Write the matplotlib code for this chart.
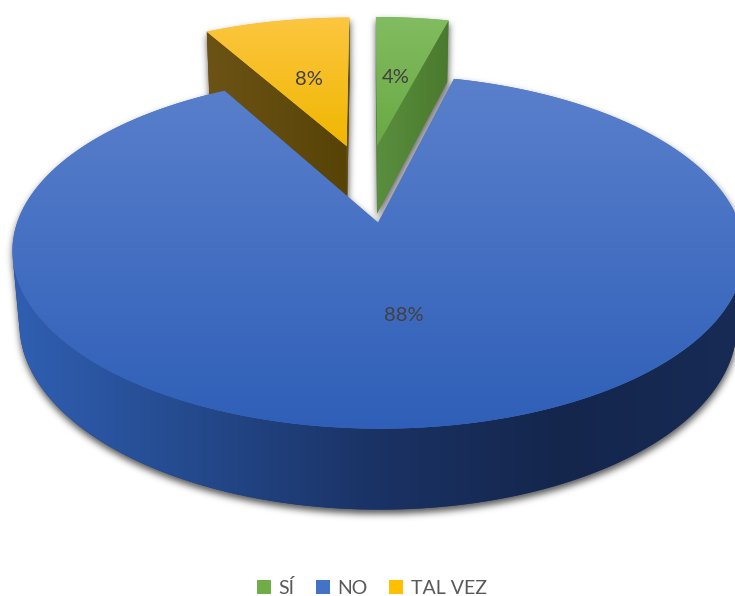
import numpy as np
import matplotlib
matplotlib.use("Agg")
import matplotlib.pyplot as plt
from matplotlib.patches import Polygon, Patch
from matplotlib.colors import to_rgb

categories = ["SÍ", "NO", "TAL VEZ"]
percent = [4, 88, 8]
legend_colors = ["#70AD47", "#4472C4", "#FFC000"]

# shading ramps per slice
top_shades = [["#82BC61", "#6AA944"], ["#5A80CC", "#2F5FB8"], ["#FCC640", "#F0B700"]]
face_shades = [["#5A8E3F", "#4A7A2D"], ["#2E5BA6", "#1A3263"], ["#6C5315", "#574306"]]
wall_shades = [["#5C9141", "#3D6624"],
               ["#305FB2", "#24498C", "#1A3264", "#14264C", "#172B55"],
               ["#B38600", "#6B5000"]]

W, H = 735, 596
ELEV = np.radians(27.3)
DIST = 5.64
SCALE = 1958.0
CX, CY = 367.0, 182.5
THICK = 0.231
EXPLODE = 0.245
LABEL_R = 0.5
SIN_E, COS_E = np.sin(ELEV), np.cos(ELEV)
CAMERA = np.array([0.0, -DIST * COS_E, DIST * SIN_E])

plt.rcParams["font.family"] = ["Lato", "DejaVu Sans"]

fig = plt.figure(figsize=(W / 100, H / 100), dpi=100)
ax = fig.add_axes([0, 0, 1, 1])
silhouettes = []
layer = [1.0]


def project(x, y, z):
    x, y, z = (np.atleast_1d(np.asarray(v, float)) for v in (x, y, z))
    x, y, z = np.broadcast_arrays(x, y, z)
    depth = y * COS_E - z * SIN_E + DIST
    return np.column_stack([CX + SCALE * x / depth,
                            CY - SCALE * (y * SIN_E + z * COS_E) / depth])


def faces_camera(point, normal):
    return np.dot(CAMERA - np.asarray(point), np.asarray(normal)) > 0


def shade(verts, colors, axis="y", span=None):
    verts = np.asarray(verts)
    cols = np.array([to_rgb(c) for c in colors])
    x0, y0 = verts.min(axis=0)
    x1, y1 = verts.max(axis=0)
    if span is None:
        span = (x0, x1) if axis == "x" else (y0, y1)
    coords = np.linspace(x0, x1, 256) if axis == "x" else np.linspace(y0, y1, 256)
    f = np.clip((coords - span[0]) / max(span[1] - span[0], 1e-6), 0, 1)
    pos = np.linspace(0, 1, len(cols))
    rgb = np.column_stack([np.interp(f, pos, cols[:, k]) for k in range(3)])
    img = rgb[None, :, :] if axis == "x" else rgb[:, None, :]
    z = layer[0]
    layer[0] += 0.01
    base = Polygon(verts, closed=True, facecolor=rgb.mean(axis=0),
                   edgecolor="none", zorder=z)
    ax.add_patch(base)
    im = ax.imshow(img, extent=(x0, x1, y1, y0), aspect="auto",
                   interpolation="bilinear", zorder=z + 0.001)
    im.set_clip_path(base)
    silhouettes.append(verts)


def draw_slice(i, a0, a1):
    mid = np.radians((a0 + a1) / 2)
    ox, oy = EXPLODE * np.sin(mid), EXPLODE * np.cos(mid)
    t = np.radians(np.linspace(a0, a1, max(12, int((a1 - a0) * 3))))

    # curved outer wall, only the parts turned toward the viewer
    tm = (t[:-1] + t[1:]) / 2
    vis = np.array([faces_camera((ox + np.sin(a), oy + np.cos(a), -THICK / 2),
                                 (np.sin(a), np.cos(a), 0)) for a in tm])
    k = 0
    while k < len(vis):
        if not vis[k]:
            k += 1
            continue
        j = k
        while j + 1 < len(vis) and vis[j + 1]:
            j += 1
        ts = t[k:j + 2]
        top = project(ox + np.sin(ts), oy + np.cos(ts), 0)
        bot = project(ox + np.sin(ts), oy + np.cos(ts), -THICK)
        shade(np.vstack([top, bot[::-1]]), wall_shades[i], axis="x", span=(13, 745))
        k = j + 1

    # flat cut faces along both radii
    for a, sign in ((np.radians(a0), -1), (np.radians(a1), 1)):
        normal = (sign * np.cos(a), -sign * np.sin(a), 0)
        centre = (ox + 0.5 * np.sin(a), oy + 0.5 * np.cos(a), -THICK / 2)
        if faces_camera(centre, normal):
            ex, ey = ox + np.sin(a), oy + np.cos(a)
            quad = project([ox, ex, ex, ox], [oy, ey, ey, oy], [0, 0, -THICK, -THICK])
            shade(quad, face_shades[i], axis="x")

    top = np.vstack([project(ox, oy, 0), project(ox + np.sin(t), oy + np.cos(t), 0)])
    shade(top, top_shades[i], axis="y")

    lx, ly = ox + LABEL_R * np.sin(mid), oy + LABEL_R * np.cos(mid)
    return project(lx, ly, 0)[0]


bounds = np.concatenate([[0], np.cumsum(percent)]) * 3.6
order = sorted(range(len(percent)),
               key=lambda i: -np.cos(np.radians((bounds[i] + bounds[i + 1]) / 2)))
label_pos = {}
for i in order:
    label_pos[i] = draw_slice(i, bounds[i], bounds[i + 1])

for i, p in label_pos.items():
    ax.text(p[0], p[1], f"{percent[i]}%", ha="center", va="center",
            fontsize=14.5, color="#404040", zorder=10)

# soft drop shadow under the whole pie
mfig = plt.figure(figsize=(W / 100, H / 100), dpi=100)
max_ = mfig.add_axes([0, 0, 1, 1])
max_.set_xlim(0, W)
max_.set_ylim(H, 0)
max_.axis("off")
for v in silhouettes:
    max_.add_patch(Polygon(v + np.array([0.5, 4.0]), closed=True,
                           facecolor="k", edgecolor="k", lw=0.5))
mfig.canvas.draw()
mask = 1.0 - np.asarray(mfig.canvas.buffer_rgba())[..., 0] / 255.0
plt.close(mfig)
sigma = 3.5
r = int(3 * sigma)
kern = np.exp(-0.5 * (np.arange(-r, r + 1) / sigma) ** 2)
kern /= kern.sum()
blur = np.apply_along_axis(lambda row: np.convolve(row, kern, mode="same"), 1, mask)
blur = np.apply_along_axis(lambda col: np.convolve(col, kern, mode="same"), 0, blur)
shadow = np.zeros((H, W, 4))
shadow[..., 3] = blur * 0.65
ax.imshow(shadow, extent=(0, W, H, 0), zorder=0.5, interpolation="bilinear", aspect="auto")

handles = [Patch(facecolor=c, edgecolor="none") for c in legend_colors]
ax.legend(handles, categories, loc="center", bbox_to_anchor=(372, 588),
          bbox_transform=ax.transData, ncol=3, frameon=False,
          handlelength=0.7, handleheight=0.7, handletextpad=0.4,
          columnspacing=1.1, prop={"size": 14}, labelcolor="#595959")

ax.set_xlim(0, W)
ax.set_ylim(H, 0)
ax.axis("off")
fig.savefig("out.png", dpi=100, facecolor="white")
